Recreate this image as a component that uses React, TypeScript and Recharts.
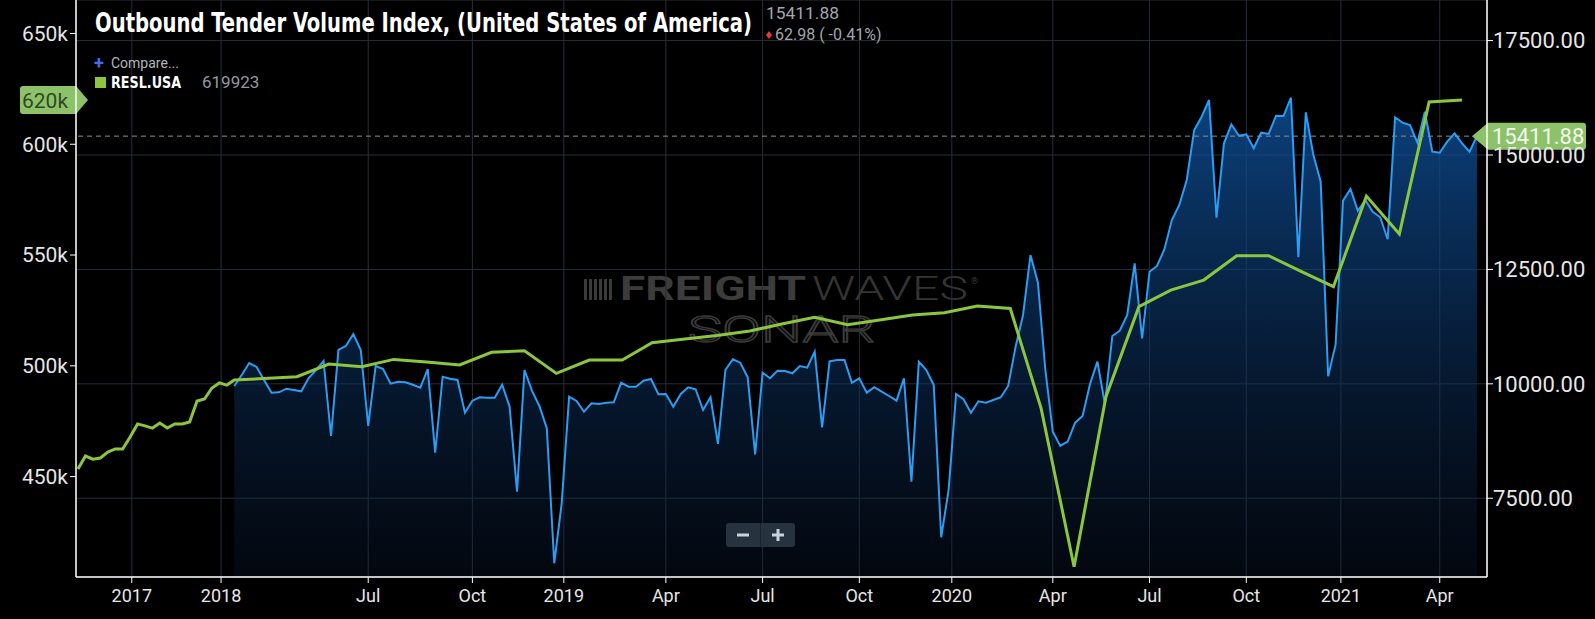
import React from 'react';
import { ComposedChart, Area, Line, XAxis, YAxis, CartesianGrid, ReferenceLine } from 'recharts';

const CHART_W = 1595;
const CHART_H = 619;

// RESL.USA – monthly retail sales, May 2016 .. Apr 2021
const reslStartYear = 2016;
const reslStartMonth = 5;
const reslValues = [
  453400, 459300, 457900, 458400, 461100, 462500, 462500, 467900,
  473800, 472900, 471900, 474200, 471900, 473800, 473800, 474700, 484100, 485000, 490000, 492300,
  491300, 493600, 494300, 495100, 500800, 499600, 502900, 501700, 500400, 506100, 506800, 496600,
  502600, 502600, 510400, 512100, 513700, 515700, 518900, 521900, 518600, 520700, 522900, 524000,
  527000, 525900, 480800, 409300, 486100, 526700, 534200, 538700, 549700, 549700, 542500, 535700,
  576600, 559500, 619100, 619923,
];

// OTVI.USA – weekly Outbound Tender Volume Index from 2018-02-25
const otviStart = '2018-02-25';
const otviValues = [
  9953, 10193, 10455, 10368, 10084, 9807, 9815, 9894, 9866, 9837,
  10128, 10302, 10499, 8860, 10740, 10827, 11089, 10740, 9079, 10390,
  10324, 10003, 10047, 10034, 9981, 9916, 10324, 8495, 10156, 10112,
  10084, 9369, 9632, 9706, 9697, 9697, 9981, 9501, 7643, 10302,
  9850, 9516, 9029, 6079, 7390, 9719, 9625, 9391, 9575, 9560,
  9588, 9597, 10025, 9938, 9938, 10069, 10106, 9772, 9778, 9501,
  9778, 9925, 9881, 9428, 9706, 8686, 10302, 10536, 10462, 10143,
  8460, 10243, 10121, 10287, 10281, 10230, 10390, 10353, 10702, 9050,
  10493, 10521, 10521, 10025, 10121, 9807, 9925, 9828, 9734, 9632,
  10121, 7862, 10484, 10302, 9975, 6647, 7681, 9778, 9662, 9369,
  9619, 9588, 9647, 9706, 9953, 10812, 11504, 12815, 12210, 10302,
  8954, 8642, 8736, 9151, 9298, 9997, 10484, 9560, 11045, 11161,
  11504, 12634, 10995, 12450, 12575, 12940, 13580, 13908, 14454, 15546,
  15837, 16202, 13630, 15256, 15671, 15422, 15452, 15147, 15487, 15459,
  15859, 15852, 16252, 12767, 15933, 15010, 14417, 10165, 10855, 14002,
  14257, 13783, 14017, 13761, 13639, 13158, 15824, 15706, 15656, 15269,
  15946, 15072, 15050, 15291, 15474, 15256, 15072, 15411.88,
];

const otviChange = '62.98 ( -0.41%)';

const xTickLabels = ['2017', '2018', 'Jul', 'Oct', '2019', 'Apr', 'Jul', 'Oct', '2020', 'Apr', 'Jul', 'Oct', '2021', 'Apr'];
const xTickDates = [
  '2017-01-01', '2018-01-01', '2018-07-01', '2018-10-01', '2019-01-01', '2019-04-01', '2019-07-01',
  '2019-10-01', '2020-01-01', '2020-04-01', '2020-07-01', '2020-10-01', '2021-01-01', '2021-04-01',
];

const leftTicks = [450000, 500000, 550000, 600000, 650000];
const rightTicks = [7500, 10000, 12500, 15000, 17500];

// ---- bar-index time axis (one bar per data point, like the source app) ----
const DAY = 86400000;
const utc = (s: string) => Date.parse(s + 'T00:00:00Z');
const D0 = utc(otviStart);
const reslDates = reslValues.map((_, i) => {
  const m0 = reslStartMonth - 1 + i;
  return Date.UTC(reslStartYear + Math.floor(m0 / 12), m0 % 12, 25);
});
const monthlyBars = reslDates.filter((t) => t < D0).length;

function slotOf(t: number): number {
  if (t >= D0) return monthlyBars + (t - D0) / (7 * DAY);
  const d = new Date(t);
  const y = d.getUTCFullYear();
  const m = d.getUTCMonth();
  const day = d.getUTCDate();
  const idx = (y - reslStartYear) * 12 + m - (reslStartMonth - 1);
  const dim = new Date(Date.UTC(y, m + 1, 0)).getUTCDate();
  return idx + (day - 25) / dim;
}

const otviData = otviValues.map((v, k) => ({ x: slotOf(D0 + k * 7 * DAY), otvi: v }));
const reslData = reslValues.map((v, i) => ({ x: slotOf(reslDates[i]), resl: v }));

const xTicks = xTickDates.map((s, i) => {
  const t = utc(s);
  const isYear = /^\d{4}$/.test(xTickLabels[i]);
  const sl = slotOf(t);
  return !isYear && t >= D0 ? Math.ceil(sl - 1e-6) : sl;
});

const xDomain = [-0.27, monthlyBars + otviValues.length + 0.35];

const GREEN = '#8cc63e';
const BLUE = '#2a9df4';
const AXIS_TEXT = '#e6e6e6';

const RightBadge = (props: any) => {
  const vb = props.viewBox || {};
  const xr = vb.x + vb.width;
  const y = vb.y;
  const h = 27;
  const d = `M${xr - 15},${y} L${xr + 1},${y - h / 2} H${xr + 96} Q${xr + 99},${y - h / 2} ${xr + 99},${y - h / 2 + 3} V${y + h / 2 - 3} Q${xr + 99},${y + h / 2} ${xr + 96},${y + h / 2} H${xr + 1} Z`;
  return (
    <g>
      <path d={d} fill="#8dc26b" />
      <text x={xr + 5} y={y} dy="0.36em" fontSize={22} fill="#f3f7ee" fontFamily="Roboto, sans-serif">
        {otviValues[otviValues.length - 1].toFixed(2)}
      </text>
    </g>
  );
};

const LeftBadge = (props: any) => {
  const vb = props.viewBox || {};
  const xl = vb.x;
  const y = vb.y;
  const h = 28;
  const x0 = 20;
  const d = `M${x0 + 3},${y - h / 2} H${xl} L${xl + 12},${y} L${xl},${y + h / 2} H${x0 + 3} Q${x0},${y + h / 2} ${x0},${y + h / 2 - 3} V${y - h / 2 + 3} Q${x0},${y - h / 2} ${x0 + 3},${y - h / 2} Z`;
  return (
    <g>
      <path d={d} fill="#8dc26b" />
      <text x={x0 + 2} y={y} dy="0.36em" fontSize={21} fill="#2e4a1f" fontFamily="Roboto, sans-serif">
        {Math.round(reslValues[reslValues.length - 1] / 1000)}k
      </text>
    </g>
  );
};

export default function App() {
  const lastResl = reslValues[reslValues.length - 1];
  const lastOtvi = otviValues[otviValues.length - 1];
  return (
    <div
      style={{
        position: 'absolute',
        left: 0,
        top: 0,
        width: CHART_W,
        height: CHART_H,
        background: '#000',
        overflow: 'hidden',
        fontFamily: 'Roboto, sans-serif',
      }}
    >
      {/* watermark */}
      <svg style={{ position: 'absolute', left: 0, top: 0 }} width={CHART_W} height={CHART_H}>
        <g fill="#3a3a3a">
          {[0, 1, 2, 3, 4, 5].map((i) => (
            <rect key={i} x={584 + i * 5} y={279} width={3} height={21} />
          ))}
        </g>
        <text x={620} y={300} fontSize={34} fontWeight={700} fill="#3c3c3c" textLength={186} lengthAdjust="spacingAndGlyphs" fontFamily="Roboto, sans-serif">
          FREIGHT
        </text>
        <text x={812} y={300} fontSize={34} fontWeight={300} fill="#343434" textLength={156} lengthAdjust="spacingAndGlyphs" fontFamily="Roboto, sans-serif">
          WAVES
        </text>
        <text x={971} y={284} fontSize={9} fill="#3a3a3a">®</text>
        <text x={688} y={342} fontSize={36} fontWeight={300} fill="none" stroke="#3a3a3a" strokeWidth={1.3} textLength={187} lengthAdjust="spacingAndGlyphs" fontFamily="Roboto, sans-serif">
          SONAR
        </text>
      </svg>

      <div style={{ position: 'absolute', left: 0, top: 0 }}>
        <ComposedChart width={CHART_W} height={CHART_H} data={otviData} margin={{ top: 0, right: 0, bottom: 0, left: 0 }}>
          <defs>
            <linearGradient id="otviFill" x1="0" y1="0" x2="0" y2="1">
              <stop offset="0%" stopColor="rgb(14,82,158)" stopOpacity={0.8} />
              <stop offset="100%" stopColor="rgb(10,26,52)" stopOpacity={0.3} />
            </linearGradient>
          </defs>
          <CartesianGrid yAxisId="right" stroke="#2a2e39" strokeWidth={1} />
          <XAxis
            dataKey="x"
            type="number"
            domain={xDomain}
            allowDataOverflow
            ticks={xTicks}
            interval={0}
            tickFormatter={(_v: number, i: number) => xTickLabels[i]}
            height={42}
            tickSize={6}
            tickMargin={6}
            axisLine={{ stroke: '#ffffff', strokeWidth: 1.5 }}
            tickLine={{ stroke: '#ffffff' }}
            tick={{ fill: AXIS_TEXT, fontSize: 18, fontFamily: 'Roboto, sans-serif' }}
          />
          <YAxis
            yAxisId="left"
            orientation="left"
            type="number"
            domain={[404700, 665100]}
            allowDataOverflow
            ticks={leftTicks}
            interval={0}
            tickFormatter={(v: number) => `${v / 1000}k`}
            width={76}
            tickSize={6}
            tickMargin={2}
            axisLine={{ stroke: '#ffffff', strokeWidth: 1.5 }}
            tickLine={{ stroke: '#ffffff' }}
            tick={{ fill: AXIS_TEXT, fontSize: 21, fontFamily: 'Roboto, sans-serif' }}
          />
          <YAxis
            yAxisId="right"
            orientation="right"
            type="number"
            domain={[5779, 18387]}
            allowDataOverflow
            ticks={rightTicks}
            interval={0}
            tickFormatter={(v: number) => v.toFixed(2)}
            width={108}
            tickSize={6}
            tickMargin={0}
            axisLine={{ stroke: '#ffffff', strokeWidth: 1.5 }}
            tickLine={{ stroke: '#ffffff' }}
            tick={{ fill: AXIS_TEXT, fontSize: 22, fontFamily: 'Roboto, sans-serif' }}
          />
          <Area
            yAxisId="right"
            type="linear"
            dataKey="otvi"
            stroke={BLUE}
            strokeWidth={2}
            fill="url(#otviFill)"
            fillOpacity={1}
            dot={false}
            activeDot={false}
            isAnimationActive={false}
          />
          <Line
            yAxisId="left"
            data={reslData}
            type="linear"
            dataKey="resl"
            stroke={GREEN}
            strokeWidth={3}
            dot={false}
            activeDot={false}
            isAnimationActive={false}
          />
          <ReferenceLine
            yAxisId="right"
            y={lastOtvi}
            stroke="#8e8e8e"
            strokeDasharray="5 4"
            strokeWidth={1}
            label={<RightBadge />}
          />
          <ReferenceLine yAxisId="left" y={lastResl} stroke="none" label={<LeftBadge />} />
        </ComposedChart>
      </div>

      {/* header / legend / zoom control */}
      <svg style={{ position: 'absolute', left: 0, top: 0, pointerEvents: 'none' }} width={CHART_W} height={CHART_H}>
        <text
          x={95}
          y={32}
          fontSize={26}
          fontWeight={700}
          fill="#ffffff"
          fontFamily="'Liberation Sans Narrow', 'DejaVu Sans Condensed', Roboto, sans-serif"
          textLength={657}
          lengthAdjust="spacingAndGlyphs"
        >
          Outbound Tender Volume Index, (United States of America)
        </text>
        <text x={766} y={19} fontSize={16} fill="#a3a6ae" fontFamily="Roboto, sans-serif" textLength={73} lengthAdjust="spacingAndGlyphs">
          {lastOtvi.toFixed(2)}
        </text>
        <path d="M769,31 L772,35 L769,39 L766,35 Z" fill="#e53935" />
        <text x={775} y={40} fontSize={16} fill="#a3a6ae" fontFamily="Roboto, sans-serif">
          {otviChange}
        </text>

        <text x={94} y={69} fontSize={18} fontWeight={700} fill="#3f6cf5" fontFamily="Roboto, sans-serif">+</text>
        <text x={111} y={68} fontSize={14} fill="#b2b5be" fontFamily="Roboto, sans-serif">Compare...</text>

        <rect x={95} y={77} width={11} height={11} fill={GREEN} />
        <text
          x={111}
          y={88}
          fontSize={15}
          fontWeight={700}
          fill="#ffffff"
          fontFamily="'Liberation Sans Narrow', 'DejaVu Sans Condensed', Roboto, sans-serif"
          textLength={70}
          lengthAdjust="spacingAndGlyphs"
        >
          RESL.USA
        </text>
        <text x={202} y={88} fontSize={17} fill="#9598a1" fontFamily="Roboto, sans-serif">
          {lastResl}
        </text>

        <rect x={726} y={523} width={69} height={24} rx={3} fill="#26333f" />
        <line x1={760.5} y1={523} x2={760.5} y2={547} stroke="#1b242d" strokeWidth={1} />
        <rect x={737} y={533.5} width={12} height={3} fill="#c9d1d9" />
        <rect x={772} y={533.5} width={12} height={3} fill="#c9d1d9" />
        <rect x={776.5} y={529} width={3} height={12} fill="#c9d1d9" />
      </svg>
    </div>
  );
}
